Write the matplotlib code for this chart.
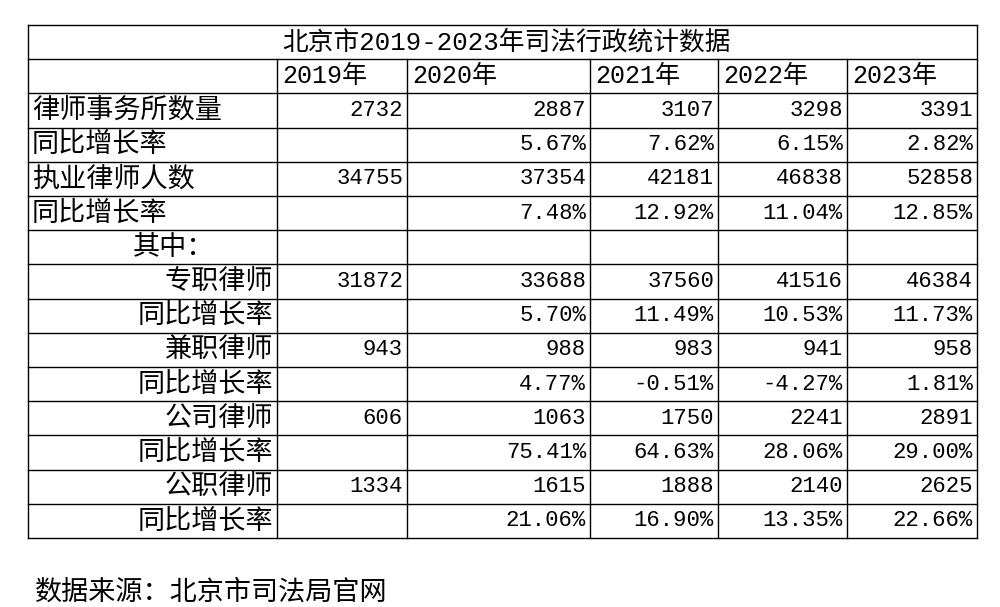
import matplotlib
matplotlib.use("Agg")
import matplotlib.pyplot as plt

plt.rcParams['font.family'] = ['Liberation Mono', 'Noto Sans CJK SC', 'DejaVu Sans']
CJK = ['Noto Sans CJK SC', 'DejaVu Sans']

title = "北京市2019-2023年司法行政统计数据"
years = ["2019年", "2020年", "2021年", "2022年", "2023年"]
row_labels = ["律师事务所数量", "同比增长率", "执业律师人数", "同比增长率", "其中：",
              "专职律师", "同比增长率", "兼职律师", "同比增长率",
              "公司律师", "同比增长率", "公职律师", "同比增长率"]
label_align = ["left", "left", "left", "left", "indent",
               "right", "right", "right", "right", "right", "right", "right", "right"]
values = [
    ["2732", "2887", "3107", "3298", "3391"],
    ["", "5.67%", "7.62%", "6.15%", "2.82%"],
    ["34755", "37354", "42181", "46838", "52858"],
    ["", "7.48%", "12.92%", "11.04%", "12.85%"],
    ["", "", "", "", ""],
    ["31872", "33688", "37560", "41516", "46384"],
    ["", "5.70%", "11.49%", "10.53%", "11.73%"],
    ["943", "988", "983", "941", "958"],
    ["", "4.77%", "-0.51%", "-4.27%", "1.81%"],
    ["606", "1063", "1750", "2241", "2891"],
    ["", "75.41%", "64.63%", "28.06%", "29.00%"],
    ["1334", "1615", "1888", "2140", "2625"],
    ["", "21.06%", "16.90%", "13.35%", "22.66%"],
]
source = "数据来源：北京市司法局官网"

fig = plt.figure(figsize=(10, 6.07), dpi=100)
ax = fig.add_axes([0, 0, 1, 1])
ax.set_xlim(0, 1000)
ax.set_ylim(607, 0)
ax.axis("off")

xs = [28, 277, 407, 590, 718, 847, 977]
top, bot = 25, 538
nrows = 2 + len(row_labels)
h = (bot - top) / nrows
ys = [top + i * h for i in range(nrows + 1)]
lw = 1.0
fs_cjk = 19.5
fs_num = 16

for y in ys:
    ax.plot([xs[0], xs[-1]], [y, y], color="black", lw=lw)
ax.plot([xs[0], xs[0]], [top, bot], color="black", lw=lw)
ax.plot([xs[-1], xs[-1]], [top, bot], color="black", lw=lw)
for x in xs[1:-1]:
    ax.plot([x, x], [ys[1], bot], color="black", lw=lw)

ax.text(506, (ys[0] + ys[1]) / 2, title, ha="center", va="center", fontsize=18.5)
for j, yr in enumerate(years):
    ax.text(xs[j + 1] + 5, (ys[1] + ys[2]) / 2, yr, ha="left", va="center", fontsize=18)

for i, lab in enumerate(row_labels):
    yc = (ys[i + 2] + ys[i + 3]) / 2
    a = label_align[i]
    if a == "left":
        ax.text(xs[0] + 4, yc, lab, ha="left", va="center", fontsize=fs_cjk, family=CJK)
    elif a == "indent":
        ax.text(133, yc, lab, ha="left", va="center", fontsize=fs_cjk, family=CJK)
    else:
        ax.text(xs[1] - 4, yc, lab, ha="right", va="center", fontsize=fs_cjk, family=CJK)
    for j, v in enumerate(values[i]):
        if v:
            ax.text(xs[j + 2] - 4, yc, v, ha="right", va="center", fontsize=fs_num)

ax.text(35, 592, source, ha="left", va="center", fontsize=fs_cjk, family=CJK)

fig.savefig("out.png", dpi=100, facecolor="white")
